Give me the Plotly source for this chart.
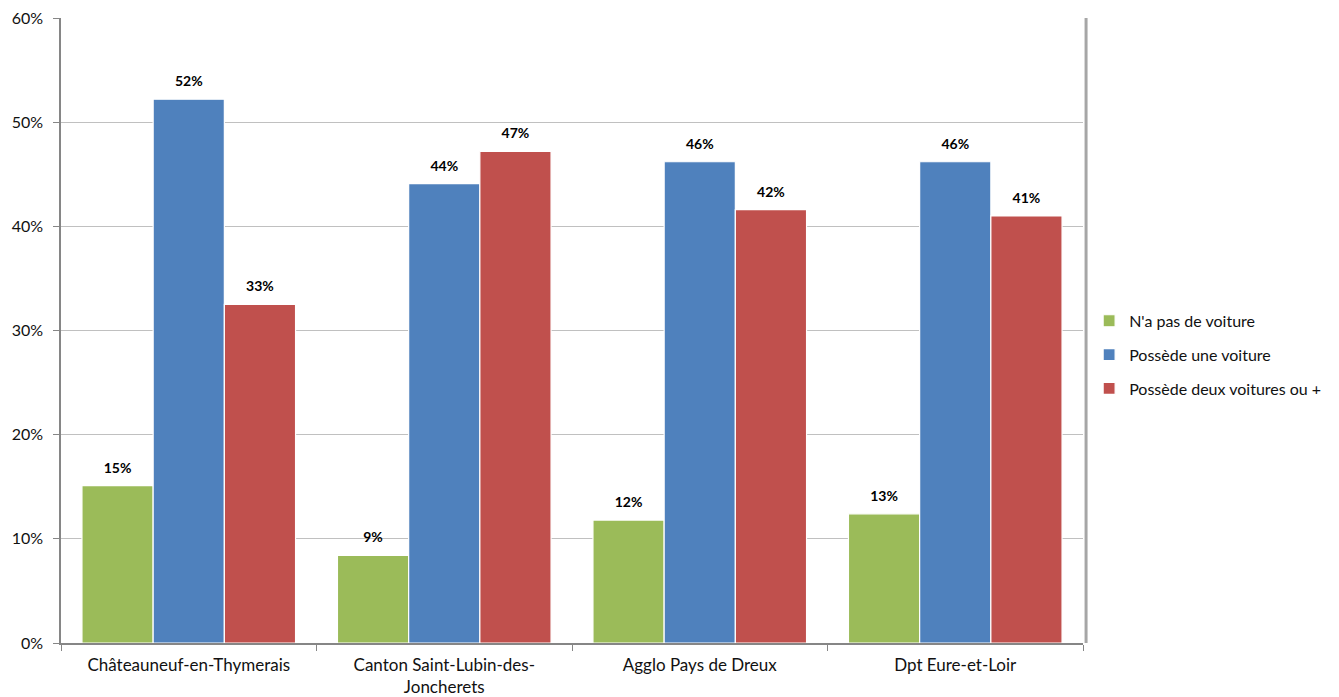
import plotly.graph_objects as go

categories = ["Châteauneuf-en-Thymerais", "Canton Saint-Lubin-des-<br>Joncherets",
              "Agglo Pays de Dreux", "Dpt Eure-et-Loir"]
series_names = ["N'a pas de voiture", "Possède une voiture", "Possède deux voitures ou +"]
no_car = [15.1, 8.4, 11.8, 12.4]
one_car = [52.2, 44.1, 46.2, 46.2]
two_cars = [32.5, 47.2, 41.6, 41.0]
no_car_labels = ["15%", "9%", "12%", "13%"]
one_car_labels = ["52%", "44%", "46%", "46%"]
two_cars_labels = ["33%", "47%", "42%", "41%"]
y_ticks = [0, 10, 20, 30, 40, 50, 60]
y_tick_labels = ["0%", "10%", "20%", "30%", "40%", "50%", "60%"]

colors = ["#9BBB59", "#4F81BD", "#C0504D"]
FONT = "Lato"
TXT = "#111111"

fig = go.Figure()
for i, (name, vals, labs) in enumerate(zip(series_names, [no_car, one_car, two_cars],
                                            [no_car_labels, one_car_labels, two_cars_labels])):
    fig.add_trace(go.Bar(
        x=categories, y=vals, name=name, text=labs,
        texttemplate="<span style='font-size:14px'><b>%{text}</b></span><br>\u00a0",
        textposition="outside", cliponaxis=False, constraintext="none",
        textfont=dict(family=FONT, size=7, color="#000000"),
        marker=dict(color=colors[i], line=dict(color="#FFFFFF", width=1.2)),
        legendgroup=f"g{i}",
    ))

fig.update_layout(
    width=1339, height=697,
    margin=dict(l=61, r=254, t=18, b=54),
    paper_bgcolor="white", plot_bgcolor="white",
    barmode="group", bargap=0.164, bargroupgap=0,
    font=dict(family=FONT, size=17, color=TXT),
    showlegend=True,
    legend=dict(x=1.006, y=0.461, xanchor="left", yanchor="middle",
                bgcolor="rgba(0,0,0,0)",
                font=dict(family=FONT, size=16, color=TXT),
                tracegroupgap=10, itemwidth=30),
)
fig.update_xaxes(showline=True, linecolor="#868686", linewidth=1.5,
                 ticks="outside", tickson="boundaries", ticklen=6, tickcolor="#868686",
                 ticklabelstandoff=6, automargin=False,
                 tickfont=dict(family=FONT, size=17, color=TXT), showgrid=False)
fig.update_yaxes(range=[0, 60], tickvals=y_ticks, ticktext=y_tick_labels,
                 showline=True, linecolor="#868686", linewidth=1.5,
                 ticks="outside", ticklen=6, tickcolor="#868686",
                 ticklabelstandoff=7, automargin=False,
                 gridcolor="#C0C0C0", gridwidth=1.2, zeroline=False,
                 tickfont=dict(family=FONT, size=16, color=TXT))
# frame shadow on right edge
fig.add_shape(type="line", xref="paper", yref="paper", x0=1.003, x1=1.003, y0=0, y1=1,
              line=dict(color="#A6A6A6", width=3))

fig.write_html("out.html")
